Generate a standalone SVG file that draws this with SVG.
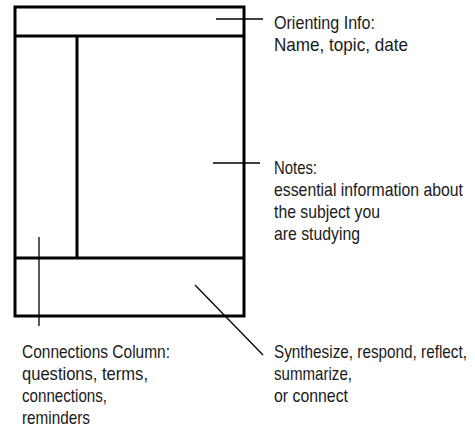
<svg xmlns="http://www.w3.org/2000/svg" width="475" height="427" viewBox="0 0 475 427">
<style>
.frame{fill:none;stroke:#000;stroke-width:3}
.lead{fill:none;stroke:#000;stroke-width:1.3}
text{font-family:"Liberation Sans",Arial,sans-serif;font-size:18.5px;fill:#1a1a1a}
</style>
<rect width="475" height="427" fill="#fff"/>
<g id="page">
<rect class="frame" x="15" y="7" width="229" height="309"/>
<line class="frame" x1="15" y1="36" x2="244" y2="36"/>
<line class="frame" x1="77" y1="36" x2="77" y2="258"/>
<line class="frame" x1="15" y1="258" x2="244" y2="258"/>
</g>
<g id="connectors">
<line class="lead" x1="216" y1="19" x2="263" y2="19"/>
<line class="lead" x1="213" y1="163" x2="260" y2="163"/>
<line class="lead" x1="39" y1="237" x2="39" y2="326"/>
<line class="lead" x1="195" y1="285" x2="263" y2="355"/>
</g>
<g id="orienting">
<text x="274" y="29" textLength="101" lengthAdjust="spacingAndGlyphs">Orienting Info:</text>
<text x="274" y="51" textLength="134" lengthAdjust="spacingAndGlyphs">Name, topic, date</text>
</g>
<g id="notes">
<text x="274" y="174" textLength="43" lengthAdjust="spacingAndGlyphs">Notes:</text>
<text x="274" y="196" textLength="189" lengthAdjust="spacingAndGlyphs">essential information about</text>
<text x="274" y="218" textLength="106" lengthAdjust="spacingAndGlyphs">the subject you</text>
<text x="274" y="240" textLength="86" lengthAdjust="spacingAndGlyphs">are studying</text>
</g>
<g id="connections">
<text x="22" y="358" textLength="148" lengthAdjust="spacingAndGlyphs">Connections Column:</text>
<text x="22" y="380" textLength="126" lengthAdjust="spacingAndGlyphs">questions, terms,</text>
<text x="22" y="402" textLength="85" lengthAdjust="spacingAndGlyphs">connections,</text>
<text x="22" y="424" textLength="68" lengthAdjust="spacingAndGlyphs">reminders</text>
</g>
<g id="synthesize">
<text x="274" y="358" textLength="193" lengthAdjust="spacingAndGlyphs">Synthesize, respond, reflect,</text>
<text x="274" y="380" textLength="78" lengthAdjust="spacingAndGlyphs">summarize,</text>
<text x="274" y="402" textLength="74" lengthAdjust="spacingAndGlyphs">or connect</text>
</g>
</svg>
